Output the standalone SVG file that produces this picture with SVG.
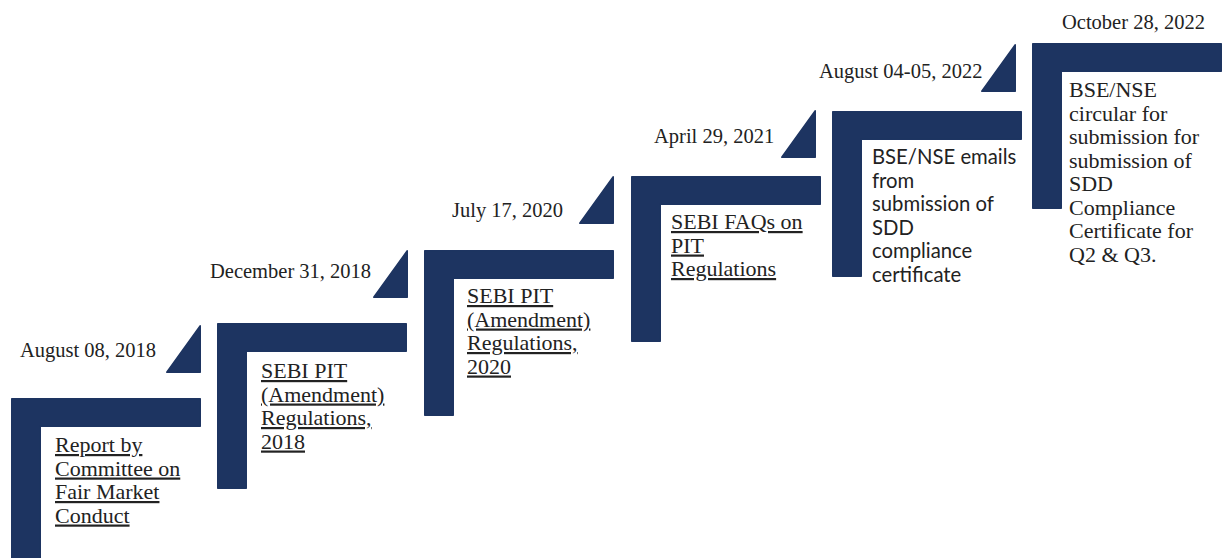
<svg xmlns="http://www.w3.org/2000/svg" xmlns:xlink="http://www.w3.org/1999/xlink" width="1225" height="558" viewBox="0 0 1225 558">
  <style>
    .bar { fill: #1d3461; stroke: #1d3461; stroke-width: 1.5; stroke-linejoin: round; }
    .date { font-family: "Liberation Serif", "Times New Roman", serif; font-size: 20.5px; fill: #222; }
    .body { font-family: "Liberation Serif", "Times New Roman", serif; font-size: 22px; fill: #222; }
    .link { text-decoration: underline; }
    .sans { font-family: Lato, "Open Sans", sans-serif; font-size: 20.3px; fill: #222; }
  </style>
  <defs>
    <!-- L-shaped step: horizontal tread with a vertical riser on the left -->
    <path id="step" d="M0.75,0.75 H189.25 V28.25 H29.25 V165.25 H0.75 Z"/>
    <!-- small right-angled wedge ahead of each step -->
    <path id="wedge" d="M34.25,0.75 V47.25 H0.75 Z"/>
  </defs>

  <g id="step-2018-08">
    <use xlink:href="#step" href="#step" class="bar" transform="translate(11,398)"/>
    <use xlink:href="#wedge" href="#wedge" class="bar" transform="translate(166,325)"/>
    <text class="date" x="20" y="357">August 08, 2018</text>
    <text class="body link" x="55" y="452"><tspan x="55">Report by</tspan><tspan x="55" dy="23.5">Committee on</tspan><tspan x="55" dy="23.5">Fair Market</tspan><tspan x="55" dy="23.5">Conduct</tspan></text>
  </g>

  <g id="step-2018-12">
    <use xlink:href="#step" href="#step" class="bar" transform="translate(217,323)"/>
    <use xlink:href="#wedge" href="#wedge" class="bar" transform="translate(373,250)"/>
    <text class="date" x="210" y="278">December 31, 2018</text>
    <text class="body link" x="261" y="378"><tspan x="261">SEBI PIT</tspan><tspan x="261" dy="23.5">(Amendment)</tspan><tspan x="261" dy="23.5">Regulations,</tspan><tspan x="261" dy="23.5">2018</tspan></text>
  </g>

  <g id="step-2020-07">
    <use xlink:href="#step" href="#step" class="bar" transform="translate(424,250)"/>
    <use xlink:href="#wedge" href="#wedge" class="bar" transform="translate(579,176)"/>
    <text class="date" x="452" y="217">July 17, 2020</text>
    <text class="body link" x="467" y="303"><tspan x="467">SEBI PIT</tspan><tspan x="467" dy="23.5">(Amendment)</tspan><tspan x="467" dy="23.5">Regulations,</tspan><tspan x="467" dy="23.5">2020</tspan></text>
  </g>

  <g id="step-2021-04">
    <use xlink:href="#step" href="#step" class="bar" transform="translate(631,176)"/>
    <use xlink:href="#wedge" href="#wedge" class="bar" transform="translate(781,110)"/>
    <text class="date" x="654" y="143">April 29, 2021</text>
    <text class="body link" x="671" y="229"><tspan x="671">SEBI FAQs on</tspan><tspan x="671" dy="23.5">PIT</tspan><tspan x="671" dy="23.5">Regulations</tspan></text>
  </g>

  <g id="step-2022-08">
    <use xlink:href="#step" href="#step" class="bar" transform="translate(832,111)"/>
    <use xlink:href="#wedge" href="#wedge" class="bar" transform="translate(981,44)"/>
    <text class="date" x="819" y="78">August 04-05, 2022</text>
    <text class="sans" x="872" y="164"><tspan x="872">BSE/NSE emails</tspan><tspan x="872" dy="23.5">from</tspan><tspan x="872" dy="23.5">submission of</tspan><tspan x="872" dy="23.5">SDD</tspan><tspan x="872" dy="23.5">compliance</tspan><tspan x="872" dy="23.5">certificate</tspan></text>
  </g>

  <g id="step-2022-10">
    <use xlink:href="#step" href="#step" class="bar" transform="translate(1032,43)"/>
    <text class="date" x="1062" y="29">October 28, 2022</text>
    <text class="body" x="1069" y="97"><tspan x="1069">BSE/NSE</tspan><tspan x="1069" dy="23.5">circular for</tspan><tspan x="1069" dy="23.5">submission for</tspan><tspan x="1069" dy="23.5">submission of</tspan><tspan x="1069" dy="23.5">SDD</tspan><tspan x="1069" dy="23.5">Compliance</tspan><tspan x="1069" dy="23.5">Certificate for</tspan><tspan x="1069" dy="23.5">Q2 &amp; Q3.</tspan></text>
  </g>
</svg>
